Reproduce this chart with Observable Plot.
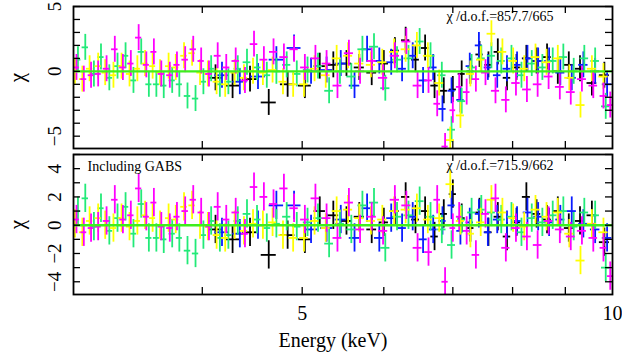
<!DOCTYPE html>
<html><head><meta charset="utf-8">
<script src="https://cdn.jsdelivr.net/npm/d3@7"></script>
<script src="https://cdn.jsdelivr.net/npm/@observablehq/plot@0.6"></script>
<style>
body{margin:0;background:#fff;}
#chart svg{display:block;}
</style></head><body><div id="chart"></div>
<script>
// ---- data (energies in keV, residuals in units of sigma) ----
const greenE = [3.03,3.08,3.14,3.19,3.25,3.31,3.37,3.43,3.49,3.55,3.61,3.67,3.74,3.80,3.87,3.94,
  4.01,4.08,4.16,4.24,4.33,4.42,4.52,4.62,4.72,4.83,4.94,
  5.06,5.18,5.31,5.44,5.58,5.72,5.87,
  6.02,6.18,6.34,6.50,6.66,6.83,6.98,
  7.14,7.30,7.46,7.63,7.80,7.98,
  8.16,8.35,8.55,8.75,8.96,
  9.17,9.39,9.62,9.85];
const greenTop = [0.9,1.85,-0.2,1.1,-0.5,0.4,1.2,-0.7,1.5,-1.0,-1.0,-1.1,-0.7,-1.0,-1.9,-2.1,
  -0.8,0.2,-1.0,-0.8,0.2,0.7,0.3,-0.3,0.0,0.5,-0.2,
  0.1,0.4,-1.5,0.0,-0.4,1.7,1.9,
  -1.3,0.9,1.0,2.3,1.2,-0.3,-4.5,
  -2.3,0.3,1.0,1.2,0.8,1.0,
  -0.3,0.6,0.3,0.8,1.1,
  0.0,1.0,0.8,-2.7];
const greenBottom = [1.0,1.9,-0.1,1.2,-0.4,0.5,1.3,-0.6,1.5,-0.9,-0.9,-1.0,-0.6,-0.9,-1.8,-2.0,
  -0.7,0.3,-0.9,-0.7,0.3,0.8,0.4,-0.2,0.1,0.6,-0.1,
  0.2,0.5,-1.3,0.1,-0.3,1.4,1.6,
  -1.6,0.6,0.7,1.7,0.6,-0.3,-1.4,
  0.4,0.9,1.1,0.9,0.4,0.6,
  -0.5,0.5,0.2,0.7,1.0,
  -0.1,0.9,0.7,-3.0];

const yellowE = [3.01,3.06,3.11,3.17,3.22,3.28,3.34,3.40,3.46,3.52,3.58,3.64,3.71,3.77,3.84,3.91,3.98,
  4.05,4.13,4.21,4.30,4.39,4.48,4.58,4.68,4.79,4.90,
  5.02,5.14,5.27,5.40,5.54,5.68,5.83,5.98,
  6.14,6.30,6.46,6.62,6.79,6.96,
  7.12,7.28,7.45,7.63,7.82,
  8.01,8.21,8.42,8.63,8.85,
  9.08,9.31,9.55,9.80];
const yellowTop = [0.0,-0.6,0.2,0.4,-0.1,-0.3,0.4,-0.2,0.2,0.6,0.4,-0.1,0.4,0.3,1.2,1.4,-0.1,
  -0.2,-0.8,-1.0,-0.1,-0.5,0.0,-0.1,0.1,-0.8,-1.0,
  -1.0,0.2,-0.3,1.0,1.2,0.6,0.5,0.7,
  1.5,1.7,2.0,1.2,-0.9,-5.3,
  -3.4,-0.2,0.9,2.9,1.5,
  0.8,0.2,1.1,0.7,1.0,
  -0.5,-2.6,0.2,-0.4];
const yellowBottom = [0.1,-0.5,0.3,0.5,0.0,-0.2,0.5,-0.1,0.3,0.7,0.5,0.0,0.5,0.4,1.3,1.4,0.0,
  -0.1,-0.7,-0.9,0.0,-0.4,0.1,0.0,0.2,-0.7,-0.9,
  -0.9,0.3,-0.2,1.0,1.1,0.5,0.3,0.4,
  1.0,1.1,1.2,0.4,0.5,2.9,
  0.3,-0.6,0.2,1.8,0.9,
  0.5,-0.1,1.1,0.6,0.9,
  -0.6,-2.5,0.1,-0.5];

const magentaE = [3.02,3.07,3.12,3.17,3.23,3.29,3.35,3.41,3.47,3.53,3.59,3.65,3.72,3.78,3.85,3.92,3.99,
  4.06,4.14,4.22,4.31,4.40,4.49,4.59,4.69,4.80,4.91,
  5.03,5.15,5.28,5.41,5.55,5.69,5.84,5.99,
  6.15,6.31,6.47,6.63,6.76,6.88,
  7.00,7.10,7.22,7.37,7.53,7.70,7.88,
  8.06,8.26,8.46,8.67,8.89,
  9.11,9.34,9.58,9.80,9.95];
const magentaTop = [0.3,-0.6,-0.3,-0.2,0.2,1.7,0.3,0.6,2.6,0.5,1.5,-0.2,-0.3,0.5,0.9,1.7,0.8,
  -0.2,1.2,0.3,0.8,-0.7,2.1,0.9,1.5,1.1,1.7,
  0.3,1.0,0.6,-1.1,1.4,0.0,0.8,-0.5,
  1.2,2.3,-1.1,-0.7,-2.5,-5.8,
  -3.0,-1.2,-1.6,-0.6,-0.1,-1.5,-2.2,
  -0.9,-1.4,-1.0,-0.4,-1.2,
  -1.6,-0.6,-1.1,-1.9,-2.6];
const magentaBottom = [0.4,-0.5,-0.2,-0.1,0.3,1.8,0.4,0.7,2.6,0.6,1.6,-0.1,-0.2,0.6,1.0,1.8,0.9,
  -0.1,1.3,0.4,0.9,-0.6,2.7,2.0,1.5,2.6,1.2,
  0.4,1.9,0.5,-0.9,1.6,-0.3,0.6,-0.4,
  1.8,1.4,-1.6,-1.9,1.8,-4.0,
  -0.2,0.6,-0.4,-2.1,0.8,1.9,-1.6,
  -0.2,-0.8,-1.4,0.3,-0.3,
  -0.8,-0.4,-0.9,-1.6,-3.6];

const blackE = [4.12,4.28,4.45,4.64,4.84,5.03,5.20,5.36,5.52,5.68,5.84,6.00,6.15,6.30,6.44,6.58,6.72,
  6.86,7.00,7.14,7.28,7.43,7.58,7.74,7.90,8.07,8.25,8.44,8.64,8.85,9.07,9.30,9.55,9.82];
const blackTop = [-0.5,-1.1,-0.6,-2.4,-1.0,-1.1,0.4,0.5,0.6,0.3,-0.1,0.6,1.6,2.4,0.9,1.8,-1.1,
  -1.5,-1.4,-0.2,0.0,1.3,0.5,1.5,-0.5,0.3,1.0,0.8,1.1,0.0,0.5,0.2,-0.9,-0.3];
const blackBottom = [-0.3,-1.0,-0.5,-2.1,-0.7,-1.0,1.0,0.7,0.3,0.6,-0.3,0.2,1.0,2.0,0.4,1.0,-0.8,
  0.8,2.2,0.5,-0.2,0.9,-0.5,0.6,-0.8,0.2,2.0,0.8,0.4,1.0,-0.2,0.3,0.7,-1.2];

const blueE = [4.18,4.35,4.53,4.72,4.91,5.10,5.28,5.45,5.62,5.78,5.94,6.10,6.25,6.40,6.55,6.70,6.84,
  6.98,7.12,7.27,7.42,7.57,7.73,7.90,8.08,8.27,8.47,8.68,8.90,9.13,9.37,9.62,9.88];
const blueTop = [-0.3,-0.8,-0.4,0.9,1.8,0.0,0.1,0.6,-1.1,1.7,0.8,0.7,0.2,1.2,-0.7,0.3,-2.9,
  -1.5,-2.2,0.4,2.0,0.3,-0.3,0.2,0.5,1.0,0.8,0.8,-0.1,-0.5,0.5,0.0,-1.0];
const blueBottom = [-0.5,-0.6,0.0,1.4,1.4,-0.3,-0.2,0.4,-0.9,1.2,-0.9,0.5,-0.2,0.6,-1.0,-0.3,0.3,
  1.4,-0.4,0.2,0.8,-0.5,0.4,0.0,0.3,0.9,0.6,0.2,0.4,1.0,0.1,-0.3,-0.9];

const xTicks = [4,5,6,7,8,9];
const xTickLabels = [5,10];
const yTicksTop = [-5,-4,-3,-2,-1,0,1,2,3,4,5];
const yLabelsTop = [-5,0,5];
const yTicksBottom = [-4,-3,-2,-1,0,1,2,3,4,5];
const yLabelsBottom = [-4,-2,0,2,4];
const statTop = "χ /d.o.f.=857.7/665";
const statBottom = "χ /d.o.f.=715.9/662";
const gabsLabel = "Including GABS";
const xTitle = "Energy (keV)";
const yTitle = "χ";

const series = [
  {color: "#000000", E: blackE, top: blackTop, bottom: blackBottom},
  {color: "#0a1cff", E: blueE, top: blueTop, bottom: blueBottom},
  {color: "#22ea78", E: greenE, top: greenTop, bottom: greenBottom},
  {color: "#ffff00", E: yellowE, top: yellowTop, bottom: yellowBottom},
  {color: "#ff00ff", E: magentaE, top: magentaTop, bottom: magentaBottom}
];

function rows(s, which) {
  const L = s.E.map(Math.log10);
  return s.E.map((e, i) => {
    const lo = i > 0 ? L[i] - L[i-1] : L[i+1] - L[i];
    const hi = i < L.length - 1 ? L[i+1] - L[i] : L[i] - L[i-1];
    const h = 0.4 * (lo + hi) / 2;
    const v = s[which][i];
    return {e, v, x1: 10 ** (L[i] - h), x2: 10 ** (L[i] + h), lo: v - 1, hi: v + 1};
  });
}

const font = "'Liberation Serif','Times New Roman',Times,serif";
const fmt = d => d < 0 ? "\u2212" + (-d) : String(d);

function panel({which, height, marginTop, marginBottom, yDomain, yTicks, yLabels, extra}) {
  const W = 622, mL = 73, mR = 10, T = 7;
  const pw = W - mL - mR, ph = height - marginTop - marginBottom;
  const dataMarks = [];
  for (const s of series) {
    const d = rows(s, which);
    dataMarks.push(Plot.ruleX(d, {x: "e", y1: "lo", y2: "hi", stroke: s.color, strokeWidth: 1.8, clip: true}));
    dataMarks.push(Plot.ruleY(d, {y: "v", x1: "x1", x2: "x2", stroke: s.color, strokeWidth: 1.8, clip: true}));
  }
  return Plot.plot({
    width: W, height, marginLeft: mL, marginRight: mR, marginTop, marginBottom,
    style: {fontFamily: font, background: "white", overflow: "visible", color: "black"},
    x: {type: "log", domain: [3, 10], axis: null},
    y: {domain: yDomain, axis: null},
    marks: [
      ...dataMarks,
      Plot.ruleY([0], {stroke: "#3fee1e", strokeWidth: 2.4}),
      Plot.tickY(yTicks, {y: d => d, insetRight: pw - T, stroke: "black", strokeWidth: 1.3}),
      Plot.tickY(yTicks, {y: d => d, insetLeft: pw - T, stroke: "black", strokeWidth: 1.3}),
      Plot.tickX(xTicks, {x: d => d, insetBottom: ph - T, stroke: "black", strokeWidth: 1.3}),
      Plot.tickX(xTicks, {x: d => d, insetTop: ph - T, stroke: "black", strokeWidth: 1.3}),
      Plot.frame({stroke: "black", strokeWidth: 1.8}),
      Plot.text(yLabels, {y: d => d, frameAnchor: "left", dx: -19, rotate: -90, text: fmt,
        fontSize: 19, textAnchor: "middle", lineAnchor: "middle", fill: "black"}),
      Plot.text([yTitle], {frameAnchor: "left", dx: -56, rotate: -90, fontSize: 21,
        textAnchor: "middle", lineAnchor: "middle", fill: "black"}),
      ...extra
    ]
  });
}

const topPlot = panel({
  which: "top", height: 150, marginTop: 6, marginBottom: 2,
  yDomain: [-5.95, 5], yTicks: yTicksTop, yLabels: yLabelsTop,
  extra: [
    Plot.text([statTop], {frameAnchor: "top-right", dx: -59, dy: 10, fontSize: 14,
      textAnchor: "end", lineAnchor: "middle", fill: "black"})
  ]
});
const bottomPlot = panel({
  which: "bottom", height: 207, marginTop: 4, marginBottom: 63,
  yDomain: [-4.9, 5], yTicks: yTicksBottom, yLabels: yLabelsBottom,
  extra: [
    Plot.text([statBottom], {frameAnchor: "top-right", dx: -59, dy: 11, fontSize: 14,
      textAnchor: "end", lineAnchor: "middle", fill: "black"}),
    Plot.text([gabsLabel], {frameAnchor: "top-left", dx: 14, dy: 12, fontSize: 14,
      textAnchor: "start", lineAnchor: "middle", fill: "black"}),
    Plot.text(xTickLabels, {x: d => d, frameAnchor: "bottom", dy: 19, fontSize: 20,
      textAnchor: "middle", lineAnchor: "middle", fill: "black", text: d => String(d)}),
    Plot.text([xTitle], {frameAnchor: "bottom", dx: -10, dy: 46, fontSize: 20,
      textAnchor: "middle", lineAnchor: "middle", fill: "black"})
  ]
});
document.getElementById("chart").append(topPlot, bottomPlot);
</script>
</body></html>
